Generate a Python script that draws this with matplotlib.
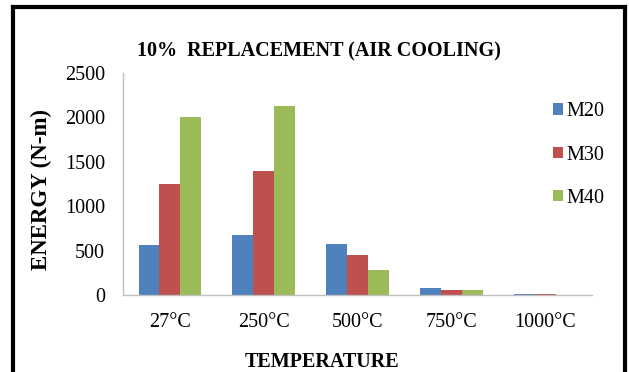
import matplotlib.pyplot as plt
import numpy as np

temps = ['27°C', '250°C', '500°C', '750°C', '1000°C']
m20 = [560, 680, 570, 75, 12]
m30 = [1250, 1400, 455, 60, 12]
m40 = [2000, 2130, 280, 60, 3]
series = ['M20', 'M30', 'M40']
colors = ['#4F81BD', '#C0504D', '#9BBB59']

plt.rcParams['font.family'] = 'Liberation Serif'

W, H = 629, 372
fig = plt.figure(figsize=(W / 100, H / 100), dpi=100)

# black frame round the chart, running off the bottom of the image
frame = fig.add_axes([13 / W, -0.05, (625 - 13) / W, 1.05 - 6.5 / H], zorder=-1)
frame.set_facecolor('none')
frame.set_xticks([])
frame.set_yticks([])
frame.spines['bottom'].set_visible(False)
for side in ['top', 'left', 'right']:
    frame.spines[side].set_linewidth(3)
    frame.spines[side].set_color('black')

ax = fig.add_axes([123 / W, 1 - 295 / H, (592 - 123) / W, (295 - 73) / H])

x = np.arange(len(temps))
w = 0.222
for i, (vals, name, c) in enumerate(zip([m20, m30, m40], series, colors)):
    ax.bar(x + (i - 1) * w, vals, width=w, color=c, label=name)

ax.set_xlim(-0.5, len(temps) - 0.5)
ax.set_ylim(0, 2500)
ax.set_yticks(range(0, 2501, 500))
ax.set_xticks(x)
ax.set_xticklabels(temps)
ax.tick_params(axis='both', length=0, labelsize=14.5)
ax.tick_params(axis='y', pad=13)
ax.tick_params(axis='x', pad=13)

for side in ['top', 'right']:
    ax.spines[side].set_visible(False)
for side in ['left', 'bottom']:
    ax.spines[side].set_color('#BFBFBF')
    ax.spines[side].set_linewidth(1)

# titles and axis labels
fig.text(319 / W, 1 - 51 / H, '10%  REPLACEMENT (AIR COOLING)', ha='center',
         va='center', fontsize=14.5, fontweight='bold')
fig.text(41 / W, 1 - 190 / H, 'ENERGY (N-m)', ha='center', va='center',
         rotation=90, fontsize=16.5, fontweight='bold')
fig.text(322 / W, 1 - 362 / H, 'TEMPERATURE', ha='center', va='center',
         fontsize=14.5, fontweight='bold')

fig.legend(loc='center left', bbox_to_anchor=(545 / W, 1 - 155 / H), frameon=False,
           fontsize=14.5, handlelength=0.5, handleheight=0.5, handletextpad=0.15,
           labelspacing=1.2, borderaxespad=0)

fig.savefig('out.png', dpi=100)
